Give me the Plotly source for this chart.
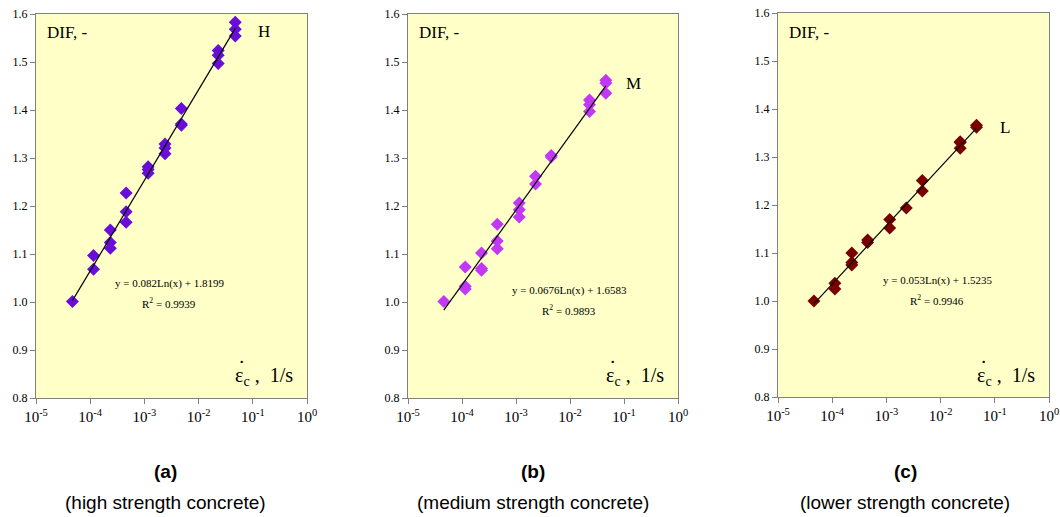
import numpy as np
import plotly.graph_objects as go

# ---- data ----
x_h = [4.7e-5, 1.15e-4, 1.15e-4, 2.35e-4, 2.35e-4, 2.35e-4, 4.6e-4, 4.6e-4, 4.6e-4,
       1.17e-3, 1.17e-3, 1.17e-3, 2.4e-3, 2.4e-3, 2.4e-3, 4.8e-3, 4.8e-3, 4.8e-3,
       2.3e-2, 2.3e-2, 2.3e-2, 4.75e-2, 4.75e-2, 4.75e-2]
y_h = [1.001, 1.097, 1.068, 1.150, 1.124, 1.112, 1.227, 1.188, 1.166,
       1.282, 1.276, 1.268, 1.329, 1.321, 1.309, 1.403, 1.371, 1.368,
       1.524, 1.514, 1.497, 1.583, 1.568, 1.554]

x_m = [4.6e-5, 1.15e-4, 1.15e-4, 1.15e-4, 2.3e-4, 2.3e-4, 2.3e-4, 4.5e-4, 4.5e-4, 4.5e-4,
       1.15e-3, 1.15e-3, 1.15e-3, 2.3e-3, 2.3e-3, 4.5e-3, 4.5e-3,
       2.3e-2, 2.3e-2, 2.3e-2, 4.6e-2, 4.6e-2, 4.6e-2]
y_m = [1.001, 1.073, 1.033, 1.027, 1.102, 1.070, 1.066, 1.162, 1.127, 1.111,
       1.206, 1.192, 1.177, 1.262, 1.246, 1.305, 1.302,
       1.421, 1.411, 1.397, 1.462, 1.456, 1.435]

x_l = [4.6e-5, 1.12e-4, 1.12e-4, 2.3e-4, 2.3e-4, 2.3e-4, 4.5e-4, 4.5e-4,
       1.15e-3, 1.15e-3, 2.33e-3, 4.6e-3, 4.6e-3, 2.3e-2, 2.3e-2, 2.3e-2, 4.6e-2, 4.6e-2]
y_l = [1.000, 1.037, 1.025, 1.100, 1.080, 1.075, 1.127, 1.122,
       1.170, 1.152, 1.194, 1.251, 1.229, 1.332, 1.330, 1.318, 1.366, 1.362]

# trendline coefficients y = a*ln(x) + b
fits = [(0.082, 1.8199, 0.9939), (0.0676, 1.6583, 0.9893), (0.053, 1.5235, 0.9946)]
labels = ["H", "M", "L"]
panel_tags = ["(a)", "(b)", "(c)"]
panel_subs = ["(high strength concrete)", "(medium strength concrete)", "(lower strength concrete)"]
colors = ["#6A0DD8", "#C238F5", "#7A0000"]

x_tickvals = [1e-5, 1e-4, 1e-3, 1e-2, 1e-1, 1e0]
x_ticktext = ["10<sup>-5</sup>", "10<sup>-4</sup>", "10<sup>-3</sup>",
              "10<sup>-2</sup>", "10<sup>-1</sup>", "10<sup>0</sup>"]
y_tickvals = [0.8, 0.9, 1.0, 1.1, 1.2, 1.3, 1.4, 1.5, 1.6]

W, H = 1060, 517
serif = "Liberation Serif, Times New Roman, serif"
sans = "Liberation Sans, Arial, sans-serif"

# plot-area pixel boxes (left, right, top, bottom)
boxes = [(36, 307, 14, 398), (408, 678, 14, 398), (778, 1049, 13, 397)]

fig = go.Figure()
datasets = [(x_h, y_h), (x_m, y_m), (x_l, y_l)]
for i, ((xs, ys), (a, b, r2)) in enumerate(zip(datasets, fits)):
    xa = "x" if i == 0 else f"x{i+1}"
    ya = "y" if i == 0 else f"y{i+1}"
    xmin, xmax = min(xs), max(xs)
    xt = np.logspace(np.log10(xmin), np.log10(xmax), 50)
    yt = a * np.log(xt) + b
    fig.add_trace(go.Scatter(x=xs, y=ys, mode="markers", xaxis=xa, yaxis=ya,
                             marker=dict(symbol="diamond", size=10, color=colors[i],
                                         line=dict(width=0)),
                             showlegend=False, hoverinfo="x+y"))
    fig.add_trace(go.Scatter(x=xt, y=yt, mode="lines", xaxis=xa, yaxis=ya,
                             line=dict(color="black", width=1.2),
                             showlegend=False, hoverinfo="skip"))

layout = dict(width=W, height=H, margin=dict(l=0, r=0, t=0, b=0, autoexpand=False),
              paper_bgcolor="white", plot_bgcolor="#FFFFC8")
annotations = []
nb = "&nbsp;"
for i, (l, r, t, bt) in enumerate(boxes):
    sfx = "" if i == 0 else str(i + 1)
    xd = [l / W, r / W]
    yd = [1 - bt / H, 1 - t / H]
    layout["xaxis" + sfx] = dict(type="log", range=[-5, 0], domain=xd, automargin=False,
                                 anchor="y" + sfx, tickvals=x_tickvals, ticktext=x_ticktext,
                                 ticks="outside", ticklen=5, tickcolor="#808080",
                                 showline=True, linecolor="#808080", linewidth=1, mirror=True,
                                 showgrid=False, zeroline=False,
                                 tickfont=dict(family=serif, size=15, color="black"))
    layout["yaxis" + sfx] = dict(range=[0.8, 1.6], domain=yd, anchor="x" + sfx,
                                 automargin=False,
                                 tickvals=y_tickvals, tickformat=".1f",
                                 ticks="outside", ticklen=5, tickcolor="#808080",
                                 showline=True, linecolor="#808080", linewidth=1, mirror=True,
                                 showgrid=False, zeroline=False,
                                 tickfont=dict(family=serif, size=12, color="black"))
    a, b, r2 = fits[i]
    # DIF label
    annotations.append(dict(x=(l + 9) / W, y=1 - 32 / H, xref="paper", yref="paper",
                            text="DIF, -", showarrow=False, xanchor="left", yanchor="middle",
                            font=dict(family=serif, size=17, color="black")))
    # strain rate label
    annotations.append(dict(x=(r - 12) / W, y=1 - 376 / H, xref="paper", yref="paper",
                            text="ε<sub>c</sub>" + nb + "," + nb * 2 + "1/s",
                            showarrow=False, xanchor="right",
                            yanchor="middle", font=dict(family=serif, size=20, color="black")))
    # dot above epsilon
    annotations.append(dict(x=(r - 66) / W, y=1 - 367 / H, xref="paper", yref="paper",
                            text="˙", showarrow=False, xanchor="center",
                            yanchor="middle", font=dict(family=serif, size=22, color="black")))
    # equation
    eq_pos = [(169, 283), (569, 290), (937, 280)][i]
    annotations.append(dict(x=eq_pos[0] / W, y=1 - eq_pos[1] / H, xref="paper", yref="paper",
                            text=f"y = {a}Ln(x) + {b}", showarrow=False, xanchor="center",
                            yanchor="middle", font=dict(family=serif, size=11, color="black")))
    annotations.append(dict(x=eq_pos[0] / W, y=1 - (eq_pos[1] + 20) / H, xref="paper",
                            yref="paper", text=f"R<sup>2</sup> = {r2}", showarrow=False,
                            xanchor="center", yanchor="middle",
                            font=dict(family=serif, size=11, color="black")))
    # series letter
    lab_pos = [(264, 31), (633, 84), (1005, 128)][i]
    annotations.append(dict(x=lab_pos[0] / W, y=1 - lab_pos[1] / H, xref="paper", yref="paper",
                            text=labels[i], showarrow=False, xanchor="center", yanchor="middle",
                            font=dict(family=serif, size=17, color="black")))
    # panel captions
    cx = [165, 533, 905][i]
    annotations.append(dict(x=cx / W, y=1 - 471 / H, xref="paper", yref="paper",
                            text="<b>" + panel_tags[i] + "</b>", showarrow=False,
                            xanchor="center", yanchor="middle",
                            font=dict(family=sans, size=19, color="black")))
    annotations.append(dict(x=cx / W, y=1 - 502 / H, xref="paper", yref="paper",
                            text=panel_subs[i], showarrow=False,
                            xanchor="center", yanchor="middle",
                            font=dict(family=sans, size=19, color="black")))

layout["annotations"] = annotations
fig.update_layout(**layout)
fig.write_html("out.html", config={"displayModeBar": False},
               post_script="document.body.style.margin='0';document.body.style.overflow='hidden';")
